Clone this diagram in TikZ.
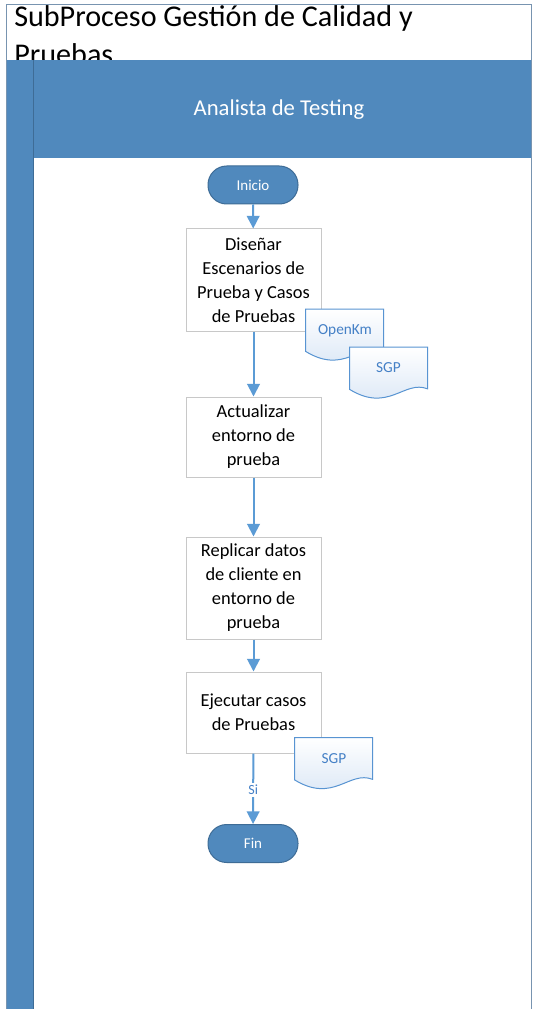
\documentclass[tikz,border=0pt]{standalone}
\usepackage{fontspec}
\setmainfont{Carlito}
\usetikzlibrary{arrows.meta}

\definecolor{lane}{RGB}{80,137,189}
\definecolor{laneline}{RGB}{62,108,150}
\definecolor{frame}{RGB}{120,148,176}
\definecolor{flowblue}{RGB}{91,155,213}
\definecolor{boxline}{RGB}{200,200,200}
\definecolor{docline}{RGB}{88,148,210}
\definecolor{docfill}{RGB}{214,228,245}
\definecolor{doctext}{RGB}{68,128,198}

\tikzset{
  stepbox/.style={draw=boxline, line width=0.75pt, fill=white,
    minimum width=101.25pt, align=center, inner sep=2pt,
    font=\fontsize{13.8pt}{18pt}\selectfont},
  terminal/.style={draw=laneline, line width=0.75pt, fill=lane, text=white,
    rounded corners=14pt, minimum width=67.5pt, minimum height=28.5pt,
    font=\fontsize{11.25pt}{13pt}\selectfont},
  doclabel/.style={inner sep=0pt, text=doctext,
    font=\fontsize{11.5pt}{13pt}\selectfont},
  docpaper/.style={draw=docline, line width=0.75pt,
    top color=white, bottom color=docfill},
  flow/.style={draw=flowblue, line width=1.5pt,
    -{Triangle[width=9.5pt,length=9.5pt]}},
  flowlabel/.style={fill=white, text=doctext, inner sep=1.5pt,
    font=\fontsize{10.5pt}{12pt}\selectfont}
}

% document sheet with a wavy lower edge, centred on a named coordinate
\newcommand\docsheet[1]{%
  \begin{scope}[shift={(#1)}, x=58.5pt, y=38.25pt]
    \path[docpaper] (-0.5,0.5) -- (0.5,0.5) -- (0.5,-0.32)
      .. controls (0.2,-0.14) and (0,-0.8) .. (-0.5,-0.33) -- cycle;
  \end{scope}}

\begin{document}
\begin{tikzpicture}[x=0.75pt, y=-0.75pt]
\useasboundingbox (0,0) rectangle (532,1009);
\fill[white] (0,0) rectangle (532,1009);

% pool title (its second line runs under the lane header)
\draw[frame, line width=0.75pt, fill=white] (6,5) rectangle (531,1014);
\node[anchor=north west, inner sep=0pt, align=left,
      font=\fontsize{22.6pt}{28pt}\selectfont] (pool) at (14,5.5)
  {SubProceso Gestión de Calidad y\\Pruebas};

% lane: left strip, header and body
\fill[lane] (6,60) rectangle (33,1014);
\fill[lane] (33,60) rectangle (532,158);
\fill[white] (33.5,158) rectangle (530.6,1014);
\draw[laneline, line width=0.6pt] (33,60) -- (33,1014);
\draw[frame, line width=0.6pt] (6,60) -- (6,1014);
\draw[frame, line width=0.75pt] (531,60) -- (531,1014);
\node[text=white, font=\fontsize{17pt}{19pt}\selectfont] (lanehead) at (279,110)
  {Analista de Testing};

% flow steps
\node[terminal] (inicio) at (253,185) {Inicio};
\node[stepbox, minimum height=76.5pt] (disenar) at (253.5,280)
  {Diseñar\\Escenarios de\\Prueba y Casos\\de Pruebas};
\node[stepbox, minimum height=60pt] (actualizar) at (253.5,437)
  {Actualizar\\entorno de\\prueba};
\node[stepbox, minimum height=76.5pt] (replicar) at (253.5,588)
  {Replicar datos\\de cliente en\\entorno de\\prueba};
\node[stepbox, minimum height=60.75pt] (ejecutar) at (253.5,712.5)
  {Ejecutar casos\\de Pruebas};
\node[terminal] (fin) at (253,843.5) {Fin};

% documents
\coordinate (openkmC) at (344.5,334.5);
\coordinate (sgpaC) at (388.5,372.5);
\coordinate (sgpbC) at (333.5,763);
\docsheet{openkmC}
\node[doclabel] (openkm) at (345,331) {OpenKm};
\docsheet{sgpaC}
\node[doclabel] (sgpa) at (388.5,368) {SGP};
\docsheet{sgpbC}
\node[doclabel] (sgpb) at (334,759) {SGP};

% connectors
\draw[flow] (inicio) -- (disenar);
\draw[flow] (disenar) -- (actualizar);
\draw[flow] (actualizar) -- (replicar);
\draw[flow] (replicar) -- (ejecutar);
\draw[flow] (ejecutar) -- node[flowlabel, pos=0.52] (si) {Si} (fin);
\end{tikzpicture}
\end{document}
